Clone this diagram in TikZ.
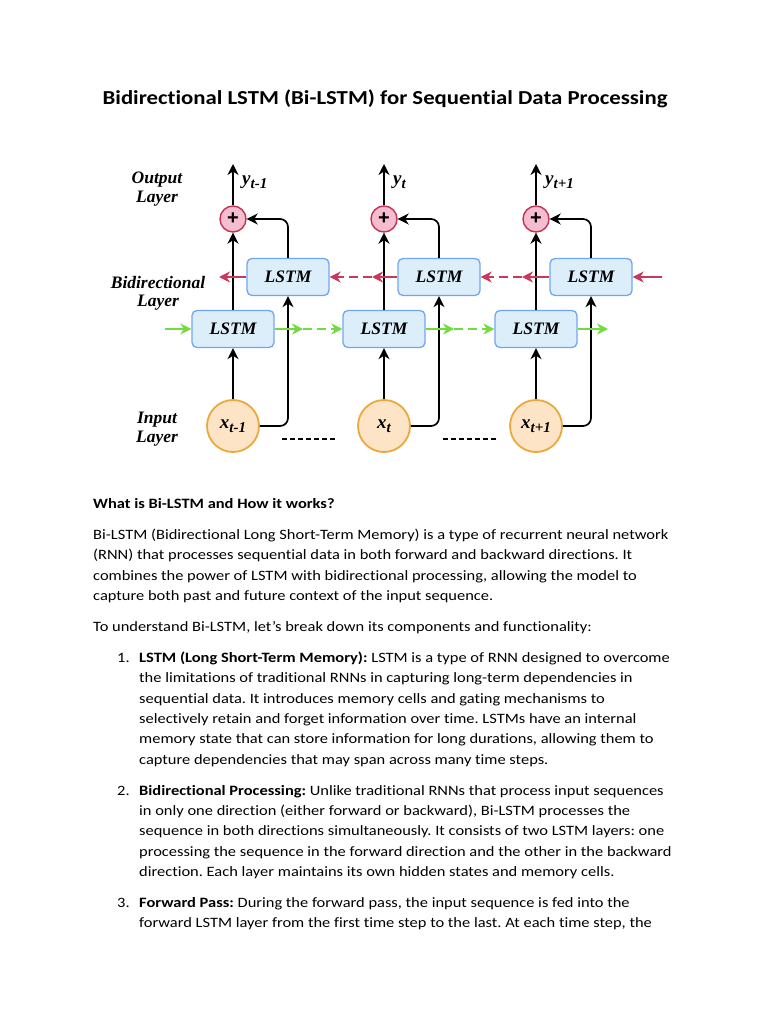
\documentclass[tikz,border=0pt]{standalone}
\usepackage{fontspec}
\setmainfont{Carlito}[FakeStretch=1.15, Ligatures=NoCommon]
\newfontfamily\dfont{Liberation Serif}
\newfontfamily\pfont{Liberation Sans}
\usetikzlibrary{arrows.meta}
\definecolor{boxfill}{HTML}{DDEEFB}
\definecolor{boxline}{HTML}{6FA6F2}
\definecolor{plusfill}{HTML}{F6BCD0}
\definecolor{plusline}{HTML}{C23452}
\definecolor{infill}{HTML}{FDE4C6}
\definecolor{inline}{HTML}{EBA93C}
\definecolor{fgreen}{HTML}{72DB3E}
\definecolor{bred}{HTML}{C8385A}
\begin{document}
\frenchspacing
\begin{tikzpicture}[x=1pt,y=-1pt,
  dtext/.style={font=\dfont\bfseries\itshape\fontsize{19}{20}\selectfont, inner sep=0pt},
  lstm/.style={draw=boxline, fill=boxfill, line width=1.3pt, rounded corners=5pt,
    minimum width=82pt, minimum height=37pt, inner sep=0pt,
    font=\dfont\bfseries\itshape\fontsize{17.5}{20}\selectfont},
  plusc/.style={circle, draw=plusline, fill=plusfill, line width=1.4pt,
    minimum size=26pt, inner sep=0pt, font=\pfont\bfseries\fontsize{20}{20}\selectfont},
  inpc/.style={circle, draw=inline, fill=infill, line width=1.8pt,
    minimum size=52pt, inner sep=0pt, font=\dfont\bfseries\itshape\fontsize{19}{20}\selectfont},
  tip/.style={-{Stealth[length=11pt,width=11pt,inset=3.5pt]}},
  conn/.style={line width=1.7pt, tip},
  gconn/.style={draw=fgreen, line width=1.7pt, tip},
  rconn/.style={draw=bred, line width=1.7pt, tip},
  gap/.style={draw=black, line width=1.6pt, dash pattern=on 5pt off 3pt},
  body/.style={anchor=base west, inner sep=0pt, font=\fontsize{14.3}{17}\selectfont},
  lab/.style={anchor=base, inner sep=0pt, font=\dfont\bfseries\itshape\fontsize{17.5}{20}\selectfont}
]
\useasboundingbox (0,0) rectangle (768,1024);
\fill[white] (0,0) rectangle (768,1024);

% title
\node[inner sep=0pt, font=\bfseries\fontsize{19.8}{22}\selectfont] (title) at (385,99) {Bidirectional LSTM (Bi-LSTM) for Sequential Data Processing};

% layer labels
\node[lab] (lo1) at (157,184) {Output};
\node[lab] (lo2) at (157,203) {Layer};
\node[lab] (lb1) at (158,288) {Bidirectional};
\node[lab] (lb2) at (158,306) {Layer};
\node[lab] (li1) at (157,423) {Input};
\node[lab] (li2) at (157,442) {Layer};

% column 1
\node[lstm] (f1) at (233,329) {LSTM};
\node[lstm] (b1) at (288,277) {LSTM};
\node[plusc] (p1) at (233,219) {+};
\node[inpc] (x1) at (233,426) {x\raisebox{-3.5pt}{\fontsize{15}{15}\selectfont t-1}};
\coordinate (o1) at (233,164);
\node[dtext, anchor=base west] (y1) at (242,185) {y\raisebox{-3.5pt}{\fontsize{15}{15}\selectfont t-1}};

% column 2
\node[lstm] (f2) at (384,329) {LSTM};
\node[lstm] (b2) at (439,277) {LSTM};
\node[plusc] (p2) at (384,219) {+};
\node[inpc] (x2) at (384,426) {x\raisebox{-3.5pt}{\fontsize{15}{15}\selectfont t}};
\coordinate (o2) at (384,164);
\node[dtext, anchor=base west] (y2) at (393,185) {y\raisebox{-3.5pt}{\fontsize{15}{15}\selectfont t}};

% column 3
\node[lstm] (f3) at (536,329) {LSTM};
\node[lstm] (b3) at (591,277) {LSTM};
\node[plusc] (p3) at (536,219) {+};
\node[inpc] (x3) at (536,426) {x\raisebox{-3.5pt}{\fontsize{15}{15}\selectfont t+1}};
\coordinate (o3) at (536,164);
\node[dtext, anchor=base west] (y3) at (545,185) {y\raisebox{-3.5pt}{\fontsize{15}{15}\selectfont t+1}};

% black connectors
\foreach \i in {1,2,3}{
  \draw[conn] (x\i.north) -- (f\i.south);
  \draw[conn] (f\i.north) -- (p\i.south);
  \draw[conn] (p\i.north) -- (o\i);
  \draw[conn, rounded corners=8pt] (x\i.east) -| (b\i.south);
  \draw[conn, rounded corners=8pt] (b\i.north) |- (p\i.east);
}

% dashed gaps between inputs
\coordinate (d1a) at (282,439); \coordinate (d1b) at (336,439);
\coordinate (d2a) at (443,439); \coordinate (d2b) at (497,439);
\draw[gap] (d1a) -- (d1b);
\draw[gap] (d2a) -- (d2b);

% forward (green) flow
\coordinate (g0) at (165,329);
\coordinate (g12) at (303,329);
\coordinate (g23) at (454,329);
\coordinate (g3) at (608,329);
\draw[gconn] (g0) -- (f1.west);
\draw[gconn] (f1.east) -- (g12);
\draw[gconn, dash pattern=on 9pt off 5pt] (g12) -- (f2.west);
\draw[gconn] (f2.east) -- (g23);
\draw[gconn, dash pattern=on 9pt off 5pt] (g23) -- (f3.west);
\draw[gconn] (f3.east) -- (g3);

% backward (red) flow
\coordinate (r0) at (662,277);
\coordinate (r32) at (522,277);
\coordinate (r21) at (372,277);
\coordinate (r1) at (219,277);
\draw[rconn] (r0) -- (b3.east);
\draw[rconn] (b3.west) -- (r32);
\draw[rconn, dash pattern=on 9pt off 5pt] (r32) -- (b2.east);
\draw[rconn] (b2.west) -- (r21);
\draw[rconn, dash pattern=on 9pt off 5pt] (r21) -- (b1.east);
\draw[rconn] (b1.west) -- (r1);

% body text
\node[body, font=\bfseries\fontsize{14.3}{17}\selectfont] (h1) at (93,508.5) {What is Bi-LSTM and How it works?};
\node[body] (a1) at (93,539.5) {Bi-LSTM (Bidirectional Long Short-Term Memory) is a type of recurrent neural network};
\node[body] (a2) at (93,559.9) {(RNN) that processes sequential data in both forward and backward directions. It};
\node[body] (a3) at (93,580.3) {combines the power of LSTM with bidirectional processing, allowing the model to};
\node[body] (a4) at (93,600.7) {capture both past and future context of the input sequence.};
\node[body] (c1) at (93,631.8) {To understand Bi-LSTM, let’s break down its components and functionality:};

\node[body] (n1) at (117,662.2) {1.};
\node[body] (i11) at (139,662.2) {\textbf{LSTM (Long Short-Term Memory):} LSTM is a type of RNN designed to overcome};
\node[body] (i12) at (139,682.6) {the limitations of traditional RNNs in capturing long-term dependencies in};
\node[body] (i13) at (139,703.0) {sequential data. It introduces memory cells and gating mechanisms to};
\node[body] (i14) at (139,723.4) {selectively retain and forget information over time. LSTMs have an internal};
\node[body] (i15) at (139,743.8) {memory state that can store information for long durations, allowing them to};
\node[body] (i16) at (139,764.2) {capture dependencies that may span across many time steps.};

\node[body] (n2) at (117,795.0) {2.};
\node[body] (i21) at (139,795.0) {\textbf{Bidirectional Processing:} Unlike traditional RNNs that process input sequences};
\node[body] (i22) at (139,815.4) {in only one direction (either forward or backward), Bi-LSTM processes the};
\node[body] (i23) at (139,835.8) {sequence in both directions simultaneously. It consists of two LSTM layers: one};
\node[body] (i24) at (139,856.2) {processing the sequence in the forward direction and the other in the backward};
\node[body] (i25) at (139,876.6) {direction. Each layer maintains its own hidden states and memory cells.};

\node[body] (n3) at (117,907.4) {3.};
\node[body] (i31) at (139,907.4) {\textbf{Forward Pass:} During the forward pass, the input sequence is fed into the};
\node[body] (i32) at (139,927.8) {forward LSTM layer from the first time step to the last. At each time step, the};
\end{tikzpicture}
\end{document}
